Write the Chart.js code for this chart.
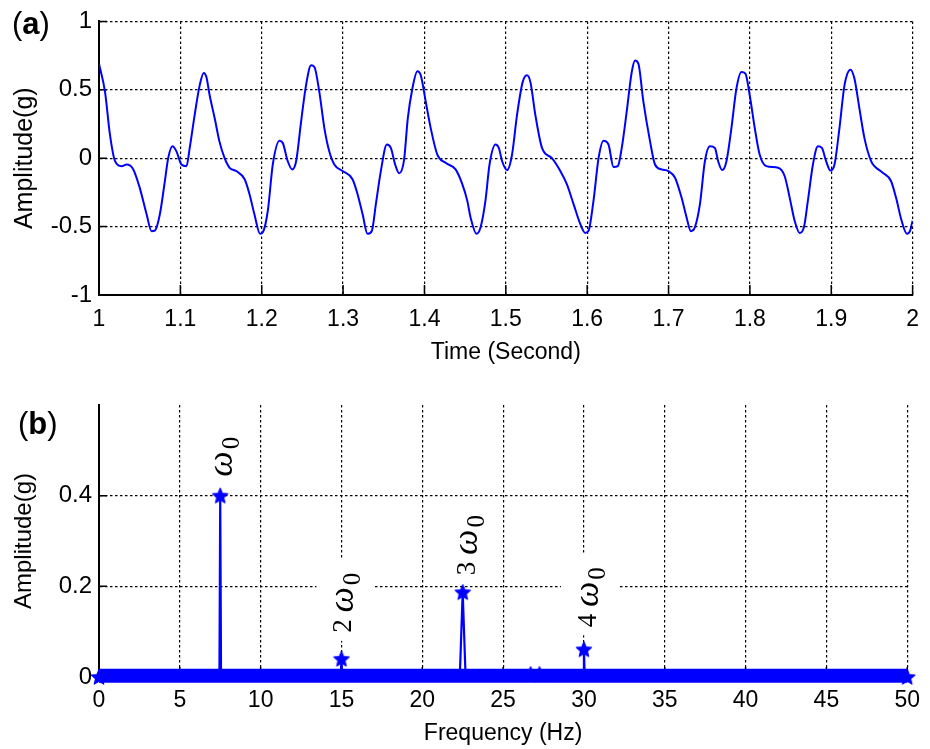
<!DOCTYPE html>
<html><head><meta charset="utf-8">
<script src="https://cdn.jsdelivr.net/npm/chart.js@4.4.1/dist/chart.umd.min.js"></script>
<style>
html,body{margin:0;padding:0;background:#fff;}
#wrap{position:relative;width:930px;height:749px;overflow:hidden;background:#fff;}
#c1{position:absolute;left:0;top:0;width:930px;height:380px;}
#c2{position:absolute;left:0;top:380px;width:930px;height:369px;}
.tag{position:absolute;font-family:'Liberation Sans',Arial,sans-serif;font-size:31px;line-height:31px;color:#000;}
</style></head><body>
<div id="wrap">
<canvas id="c1" width="930" height="380"></canvas>
<canvas id="c2" width="930" height="369"></canvas>
<div class="tag" style="left:12px;top:8px">(<b>a</b>)</div>
<div class="tag" style="left:18px;top:408px">(<b>b</b>)</div>
</div>
<script>
// ---------- Panel (a): time signal ----------
const timeSec = [1.000,1.0074,1.0135,1.0196,1.0278,1.034,1.042,1.050,1.0585,1.0646,1.0686,1.0748,1.0809,1.085,1.0903,1.0952,1.1013,1.1075,1.1115,1.1176,1.1238,1.1287,1.132,1.136,1.1422,1.148,1.1544,1.1605,1.1687,1.179,1.185,1.191,1.198,1.2015,1.2075,1.2136,1.2218,1.2259,1.232,1.2374,1.2423,1.2484,1.2545,1.2607,1.2647,1.2708,1.277,1.283,1.2892,1.2994,1.3116,1.3178,1.324,1.330,1.3354,1.3403,1.3464,1.3538,1.3587,1.364,1.3689,1.375,1.3795,1.3852,1.3913,1.3955,1.4016,1.4077,1.4158,1.426,1.4383,1.4465,1.4526,1.4567,1.464,1.469,1.475,1.480,1.4873,1.4914,1.4955,1.5016,1.5077,1.5138,1.5208,1.526,1.5302,1.5363,1.5445,1.5567,1.567,1.575,1.5833,1.5915,1.5975,1.6017,1.6078,1.614,1.620,1.6262,1.6324,1.6377,1.6425,1.6486,1.6548,1.6589,1.663,1.6691,1.6773,1.6834,1.6915,1.6998,1.708,1.716,1.7222,1.7275,1.7324,1.7386,1.7447,1.7508,1.757,1.761,1.766,1.7712,1.7773,1.7835,1.7896,1.7945,1.7998,1.806,1.812,1.8202,1.8346,1.8427,1.8489,1.855,1.8611,1.8664,1.8713,1.8775,1.8836,1.8885,1.8937,1.899,1.904,1.9101,1.9163,1.9236,1.9285,1.9346,1.9408,1.949,1.953,1.9632,1.9734,1.9796,1.9865,1.993,1.997,2.000];
const accelG = [0.69,0.485,0.17,-0.02,-0.058,-0.046,-0.08,-0.215,-0.41,-0.534,-0.53,-0.41,-0.17,0.0,0.087,0.05,-0.046,-0.058,0.075,0.317,0.534,0.623,0.594,0.46,0.292,0.123,0.0,-0.07,-0.094,-0.154,-0.263,-0.41,-0.553,-0.54,-0.384,-0.046,0.128,0.111,-0.022,-0.082,-0.022,0.268,0.534,0.679,0.667,0.485,0.22,0.05,-0.046,-0.094,-0.154,-0.263,-0.41,-0.553,-0.53,-0.336,-0.094,0.1,0.075,-0.046,-0.11,-0.01,0.29,0.51,0.635,0.606,0.413,0.22,0.027,-0.034,-0.082,-0.19,-0.31,-0.433,-0.553,-0.505,-0.31,-0.046,0.1,0.075,-0.022,-0.087,0.027,0.317,0.558,0.606,0.558,0.317,0.075,0.0,-0.094,-0.19,-0.336,-0.48,-0.546,-0.53,-0.31,0.0,0.128,0.1,-0.065,-0.058,0.075,0.34,0.63,0.715,0.69,0.413,0.123,-0.046,-0.082,-0.094,-0.143,-0.288,-0.433,-0.534,-0.505,-0.336,-0.022,0.087,0.075,-0.022,-0.087,-0.022,0.22,0.51,0.63,0.618,0.46,0.22,0.027,-0.058,-0.07,-0.13,-0.288,-0.457,-0.546,-0.505,-0.31,-0.046,0.087,0.075,-0.022,-0.09,-0.046,0.22,0.534,0.647,0.582,0.364,0.147,-0.022,-0.058,-0.106,-0.167,-0.288,-0.457,-0.553,-0.53,-0.457];
const timeTicks = [1,1.1,1.2,1.3,1.4,1.5,1.6,1.7,1.8,1.9,2];
const timeTickLabels = ['1','1.1','1.2','1.3','1.4','1.5','1.6','1.7','1.8','1.9','2'];
const ampTicksA = [-1,-0.5,0,0.5,1];
const ampTickLabelsA = ['-1','-0.5','0','0.5','1'];

// ---------- Panel (b): spectrum ----------
const floorFreq = [0, 50];
const floorAmp = [0.003, 0.003];
const specFreq = [0, 7.45, 7.5, 7.55, 14.95, 15, 15.05, 22.32, 22.5, 22.68, 26.65, 26.7, 26.75, 27.2, 27.25, 27.3, 29.95, 30, 30.05, 50];
const specAmp  = [0, 0, 0.4, 0, 0, 0.04, 0, 0, 0.187, 0, 0, 0.006, 0, 0, 0.006, 0, 0, 0.061, 0, 0];
const freqTicks = [0,5,10,15,20,25,30,35,40,45,50];
const freqTickLabels = ['0','5','10','15','20','25','30','35','40','45','50'];
const ampTicksB = [0,0.2,0.4];
const ampTickLabelsB = ['0','0.2','0.4'];
const harmPrefix = ['', '2', '3', '4'];
const harmFreq = [7.5, 15, 22.5, 30];
const harmAmp = [0.4, 0.04, 0.187, 0.061];

// ---------- styling ----------
const FONT = "'Liberation Sans', Arial, sans-serif";
const SERIF = "'Liberation Serif', 'Times New Roman', serif";
const BLUE = '#0000ff';
const LABEL_OFF = [[12,-19],[10,-26],[12,-17],[12,-22]];

// filled pentagram marker
const starImg = (() => {
  const c = document.createElement('canvas');
  c.width = 18; c.height = 18;
  const g = c.getContext('2d');
  g.fillStyle = BLUE; g.strokeStyle = BLUE; g.lineWidth = 1.2; g.lineJoin = 'round';
  g.beginPath();
  for (let k = 0; k < 10; k++) {
    const r = k % 2 ? 3.6 : 8;
    const a = -Math.PI / 2 + k * Math.PI / 5;
    const px = 9 + r * Math.cos(a), py = 9.6 + r * Math.sin(a);
    k ? g.lineTo(px, py) : g.moveTo(px, py);
  }
  g.closePath(); g.fill(); g.stroke();
  return c;
})();

const innerTicks = {
  id: 'innerTicks',
  beforeDatasetsDraw(chart) {
    const {ctx, chartArea: a, scales: {x, y}} = chart;
    ctx.save();
    ctx.strokeStyle = '#000'; ctx.lineWidth = 1.5; ctx.setLineDash([]);
    ctx.beginPath();
    x.ticks.forEach(t => { const p = x.getPixelForValue(t.value); ctx.moveTo(p, a.bottom); ctx.lineTo(p, a.bottom - 10); });
    y.ticks.forEach(t => { const p = y.getPixelForValue(t.value); ctx.moveTo(a.left, p); ctx.lineTo(a.left + 8, p); });
    ctx.stroke();
    ctx.restore();
  }
};

const harmonicLabels = {
  id: 'harmonicLabels',
  afterDatasetsDraw(chart) {
    const {ctx, scales: {x, y}} = chart;
    harmPrefix.forEach((pre, i) => {
      const px = x.getPixelForValue(harmFreq[i]) + LABEL_OFF[i][0];
      const py = y.getPixelForValue(harmAmp[i]) + LABEL_OFF[i][1];
      const fNum = '27px ' + SERIF, fOm = 'italic 36px ' + SERIF, fSub = '25px ' + SERIF;
      ctx.save();
      ctx.translate(px, py);
      ctx.rotate(-Math.PI / 2);
      ctx.font = fNum; const wNum = pre ? ctx.measureText(pre + ' ').width : 0;
      ctx.font = fOm; const wOm = ctx.measureText('\u03c9').width;
      ctx.font = fSub; const wSub = ctx.measureText('0').width;
      const total = wNum + wOm + 3 + wSub;
      ctx.fillStyle = '#fff';
      ctx.fillRect(-8, -35, total + 20, 58);
      ctx.fillStyle = '#000'; ctx.textAlign = 'left'; ctx.textBaseline = 'alphabetic';
      let cx = 0;
      if (pre) { ctx.font = fNum; ctx.fillText(pre, 0, 0); cx = wNum; }
      ctx.font = fOm; ctx.fillText('\u03c9', cx, pre ? 2 : 0); cx += wOm + 2;
      ctx.font = fSub; ctx.fillText('0', cx, pre ? 9 : 7);
      ctx.restore();
    });
  }
};

function axisX(min, max, ticks, labels, title, height, tickPad, titlePadB) {
  return {
    type: 'linear', min, max,
    afterBuildTicks: s => { s.ticks = ticks.map(v => ({value: v})); },
    ticks: {callback: (v, i) => labels[i], font: {family: FONT, size: 23}, color: '#000', padding: tickPad, maxRotation: 0, autoSkip: false},
    grid: {color: '#000', lineWidth: 1.2, drawTicks: false},
    border: {display: true, color: '#000', width: 2, dash: [2.5, 2.5]},
    title: {display: true, text: title, font: {family: FONT, size: 23}, color: '#000', padding: {top: 0, bottom: titlePadB}},
    afterFit: s => { s.height = height; }
  };
}
function axisY(min, max, ticks, labels, titleSize) {
  return {
    type: 'linear', min, max,
    afterBuildTicks: s => { s.ticks = ticks.map(v => ({value: v})); },
    ticks: {callback: (v, i) => labels[i], font: {family: FONT, size: 24}, color: '#000', padding: 7, autoSkip: false},
    grid: {color: '#000', lineWidth: 1.2, drawTicks: false},
    border: {display: true, color: '#000', width: 2, dash: [2.5, 2.5]},
    title: {display: true, text: 'Amplitude(g)', font: {family: FONT, size: titleSize}, color: '#000', padding: {top: 10, bottom: 0}},
    afterFit: s => { s.width = 99; }
  };
}

new Chart(document.getElementById('c1'), {
  type: 'line',
  data: {datasets: [{
    data: timeSec.map((t, i) => ({x: t, y: accelG[i]})),
    borderColor: BLUE, borderWidth: 2, pointRadius: 0, fill: false,
    cubicInterpolationMode: 'monotone'
  }]},
  options: {
    responsive: false, animation: false, devicePixelRatio: 1,
    layout: {padding: {left: 0, right: 15, top: 20, bottom: 0}},
    plugins: {legend: {display: false}, tooltip: {enabled: false}},
    scales: {
      x: axisX(1, 2, timeTicks, timeTickLabels, 'Time (Second)', 85, 11, 14),
      y: axisY(-1, 1, ampTicksA, ampTickLabelsA, 25)
    }
  },
  plugins: [innerTicks]
});

new Chart(document.getElementById('c2'), {
  type: 'line',
  data: {datasets: [
    {data: floorFreq.map((f, i) => ({x: f, y: floorAmp[i]})), borderColor: BLUE, borderWidth: 14, borderCapStyle: 'butt', pointRadius: 0, fill: false, clip: false, order: 2},
    {data: specFreq.map((f, i) => ({x: f, y: specAmp[i]})), borderColor: BLUE, borderWidth: 2.2, pointStyle: starImg,
     pointRadius: c => (specAmp[c.dataIndex] > 0 || c.dataIndex === 0 || c.dataIndex === specAmp.length - 1) ? 8 : 0,
     fill: false, clip: false, tension: 0, order: 1}
  ]},
  options: {
    responsive: false, animation: false, devicePixelRatio: 1,
    layout: {padding: {left: 0, right: 17, top: 25, bottom: 0}},
    plugins: {legend: {display: false}, tooltip: {enabled: false}},
    scales: {
      x: axisX(0, 50, freqTicks, freqTickLabels, 'Frequency (Hz)', 72, 10, 2),
      y: axisY(0, 0.6, ampTicksB, ampTickLabelsB, 24)
    }
  },
  plugins: [innerTicks, harmonicLabels]
});
</script>
</body></html>
